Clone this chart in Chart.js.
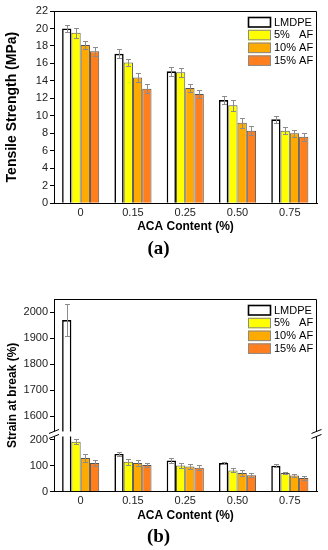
<!DOCTYPE html>
<html><head><meta charset="utf-8">
<script src="https://cdn.jsdelivr.net/npm/chart.js@4/dist/chart.umd.min.js"></script>
<style>
html,body{margin:0;padding:0;background:#fff;width:328px;height:550px;overflow:hidden}
.box{position:absolute;left:0;width:328px}
#wa{top:0;height:260px}
#wb{top:260px;height:290px}
</style></head><body>
<div class="box" id="wa"><canvas id="ca"></canvas></div>
<div class="box" id="wb"><canvas id="cb"></canvas></div>
<script>
// ---- data ----
const categories = ['0', '0.15', '0.25', '0.50', '0.75'];
const seriesLabels = ['LMDPE', '5%   AF', '10% AF', '15% AF'];

const tensileLMDPE = [20.0, 17.1, 15.1, 11.8, 9.6];
const tensileAF5   = [19.5, 16.1, 15.0, 11.2, 8.3];
const tensileAF10  = [18.1, 14.4, 13.2, 9.2, 8.0];
const tensileAF15  = [17.4, 13.1, 12.5, 8.3, 7.6];
const tensileErrLMDPE = [0.45, 0.5, 0.5, 0.5, 0.4];
const tensileErrAF5   = [0.55, 0.4, 0.5, 0.6, 0.4];
const tensileErrAF10  = [0.5, 0.55, 0.5, 0.6, 0.4];
const tensileErrAF15  = [0.5, 0.5, 0.5, 0.5, 0.45];

const strainLMDPE = [1970, 145, 120, 110, 100];
const strainAF5   = [192, 115, 101, 82, 72];
const strainAF10  = [130, 110, 97, 72, 62];
const strainAF15  = [110, 103, 92, 63, 53];
const strainErrLMDPE = [60, 8, 9, 3, 6];
const strainErrAF5   = [10, 12, 8, 8, 5];
const strainErrAF10  = [16, 10, 10, 10, 6];
const strainErrAF15  = [12, 8, 9, 8, 8];

const tensileTicks = [0, 2, 4, 6, 8, 10, 12, 14, 16, 18, 20, 22];
const strainTicks = [0, 100, 200, 1600, 1700, 1800, 1900, 2000];

// broken axis: values above the break are shifted down
const breakShift = 1310;
const breakAt = 222;
const toDisplay = v => (v > 1000 ? v - breakShift : v);

// ---- styles ----
const fills = ['#ffffff', '#ffff00', '#ffaa00', '#ff7f1e'];
const borders = ['#000000', '#555555', '#555555', '#555555'];
const bw = [1.6, 1, 1, 1];

Chart.defaults.font.family = '"Liberation Sans", Arial, sans-serif';
Chart.defaults.color = '#000';

function makeErrorPlugin(tf) {
  return {
    id: 'errorBars',
    afterDatasetsDraw(chart) {
      const ys = chart.scales.y, ctx = chart.ctx;
      ctx.save();
      ctx.strokeStyle = '#8c8c8c';
      ctx.lineWidth = 1;
      chart.data.datasets.forEach((ds, di) => {
        const meta = chart.getDatasetMeta(di);
        meta.data.forEach((bar, i) => {
          const v = ds.rawValues[i], e = ds.errors[i];
          const x = Math.round(bar.x) + 0.5;
          const y1 = Math.round(ys.getPixelForValue(tf(v + e))) + 0.5;
          const y2 = Math.round(ys.getPixelForValue(tf(v - e))) + 0.5;
          ctx.beginPath();
          ctx.moveTo(x, y1); ctx.lineTo(x, y2);
          ctx.moveTo(x - 2.5, y1); ctx.lineTo(x + 2.5, y1);
          ctx.moveTo(x - 2.5, y2); ctx.lineTo(x + 2.5, y2);
          ctx.stroke();
        });
      });
      ctx.restore();
    }
  };
}

const framePlugin = {
  id: 'frame',
  afterDraw(chart) {
    const a = chart.chartArea, ctx = chart.ctx;
    ctx.save();
    ctx.strokeStyle = '#000';
    ctx.lineWidth = 1;
    ctx.beginPath();
    ctx.moveTo(a.left, a.top + 0.5);
    ctx.lineTo(a.right - 0.5, a.top + 0.5);
    ctx.lineTo(a.right - 0.5, a.bottom);
    ctx.stroke();
    ctx.restore();
  }
};

const legendPlugin = {
  id: 'boxLegend',
  afterDraw(chart) {
    const a = chart.chartArea, ctx = chart.ctx;
    ctx.save();
    chart.data.datasets.forEach((ds, i) => {
      const x = a.right - 69, y = a.top + 6 + i * 12.8;
      ctx.fillStyle = ds.backgroundColor;
      ctx.fillRect(x, y, 23, 10.5);
      ctx.strokeStyle = i === 0 ? '#000' : '#8a8a8a';
      ctx.lineWidth = i === 0 ? 1.6 : 1;
      ctx.strokeRect(x + 0.5, y + 0.5, 22, 9.5);
      ctx.fillStyle = '#000';
      ctx.font = '11px "Liberation Sans", Arial, sans-serif';
      ctx.textBaseline = 'middle';
      ctx.textAlign = 'left';
      ctx.fillText(ds.label, x + 26, y + 5.5);
    });
    ctx.restore();
  }
};

const breakPlugin = {
  id: 'axisBreak',
  afterDraw(chart) {
    const a = chart.chartArea, ctx = chart.ctx;
    const y = chart.scales.y.getPixelForValue(breakAt);
    ctx.save();
    ctx.fillStyle = '#fff';
    ctx.fillRect(a.left - 3, y - 2.5, a.right - a.left + 6, 5);
    ctx.strokeStyle = '#000';
    ctx.lineWidth = 1;
    [a.left, a.right - 0.5].forEach(x => {
      ctx.beginPath();
      ctx.moveTo(x - 5, y - 0.5); ctx.lineTo(x + 5, y - 4.5);
      ctx.moveTo(x - 5, y + 4.5); ctx.lineTo(x + 5, y + 0.5);
      ctx.stroke();
    });
    ctx.restore();
  }
};

function makeDatasets(seriesList, errList, tf) {
  return seriesList.map((vals, k) => ({
    label: seriesLabels[k],
    data: vals.map((v, i) => ({ x: i, y: tf(v) })),
    rawValues: vals,
    errors: errList[k],
    backgroundColor: fills[k],
    borderColor: borders[k],
    borderWidth: bw[k],
    categoryPercentage: 0.71,
    barPercentage: 1
  }));
}

function xScale() {
  return {
    type: 'linear', min: -0.51, max: 4.52, offset: false,
    afterBuildTicks: s => { s.ticks = categories.map((c, i) => ({ value: i })); },
    ticks: { callback: v => categories[v], font: { size: 11 }, padding: 3, maxRotation: 0, autoSkip: false, color: '#222' },
    grid: { display: false, drawTicks: false, offset: false },
    border: { display: true, color: '#000', width: 1 },
    title: { display: true, text: 'ACA Content (%)', font: { size: 12, weight: 'bold' }, padding: { top: 0, bottom: 0 } },
    afterFit: s => { s.height = 31; }
  };
}

function baseOptions(padTop, padBottom, yScale, title) {
  return {
    responsive: true, maintainAspectRatio: false, animation: false,
    layout: { padding: { top: padTop, right: 11, left: 0, bottom: padBottom } },
    plugins: {
      legend: { display: false }, tooltip: { enabled: false },
      title: { display: true, text: title, position: 'bottom',
        font: { family: '"Liberation Serif", "DejaVu Serif", serif', size: 19, weight: 'bold' },
        padding: { top: 3, bottom: 0 }, color: '#000' }
    },
    scales: { x: xScale(), y: yScale }
  };
}

// ---- chart (a) ----
new Chart(document.getElementById('ca'), {
  type: 'bar',
  data: { datasets: makeDatasets(
    [tensileLMDPE, tensileAF5, tensileAF10, tensileAF15],
    [tensileErrLMDPE, tensileErrAF5, tensileErrAF10, tensileErrAF15], v => v) },
  options: baseOptions(11, 0, {
    min: 0, max: 22,
    afterBuildTicks: s => { s.ticks = tensileTicks.map(v => ({ value: v })); },
    ticks: { font: { size: 11 }, padding: 2, color: '#222', callback: v => String(v) },
    grid: { drawOnChartArea: false, drawTicks: true, tickLength: 4, color: '#000' },
    border: { color: '#000', width: 1 },
    title: { display: true, text: 'Tensile Strength (MPa)', font: { size: 14, weight: 'bold' }, padding: { top: 4, bottom: 0 } },
    afterFit: s => { s.width = 54; }
  }, '(a)'),
  plugins: [makeErrorPlugin(v => v), framePlugin, legendPlugin]
});

// ---- chart (b) ----
new Chart(document.getElementById('cb'), {
  type: 'bar',
  data: { datasets: makeDatasets(
    [strainLMDPE, strainAF5, strainAF10, strainAF15],
    [strainErrLMDPE, strainErrAF5, strainErrAF10, strainErrAF15], toDisplay) },
  options: baseOptions(39, 1.5, {
    min: 0, max: 741,
    afterBuildTicks: s => { s.ticks = strainTicks.map(v => ({ value: toDisplay(v) })); },
    ticks: { font: { size: 11 }, padding: 2, color: '#222', callback: (v, idx) => String(strainTicks[idx]) },
    grid: { drawOnChartArea: false, drawTicks: true, tickLength: 4, color: '#000' },
    border: { color: '#000', width: 1 },
    title: { display: true, text: 'Strain at break (%)', font: { size: 12, weight: 'bold' }, padding: { top: 5, bottom: 0 } },
    afterFit: s => { s.width = 54; }
  }, '(b)'),
  plugins: [makeErrorPlugin(toDisplay), framePlugin, breakPlugin, legendPlugin]
});
</script>
</body></html>
